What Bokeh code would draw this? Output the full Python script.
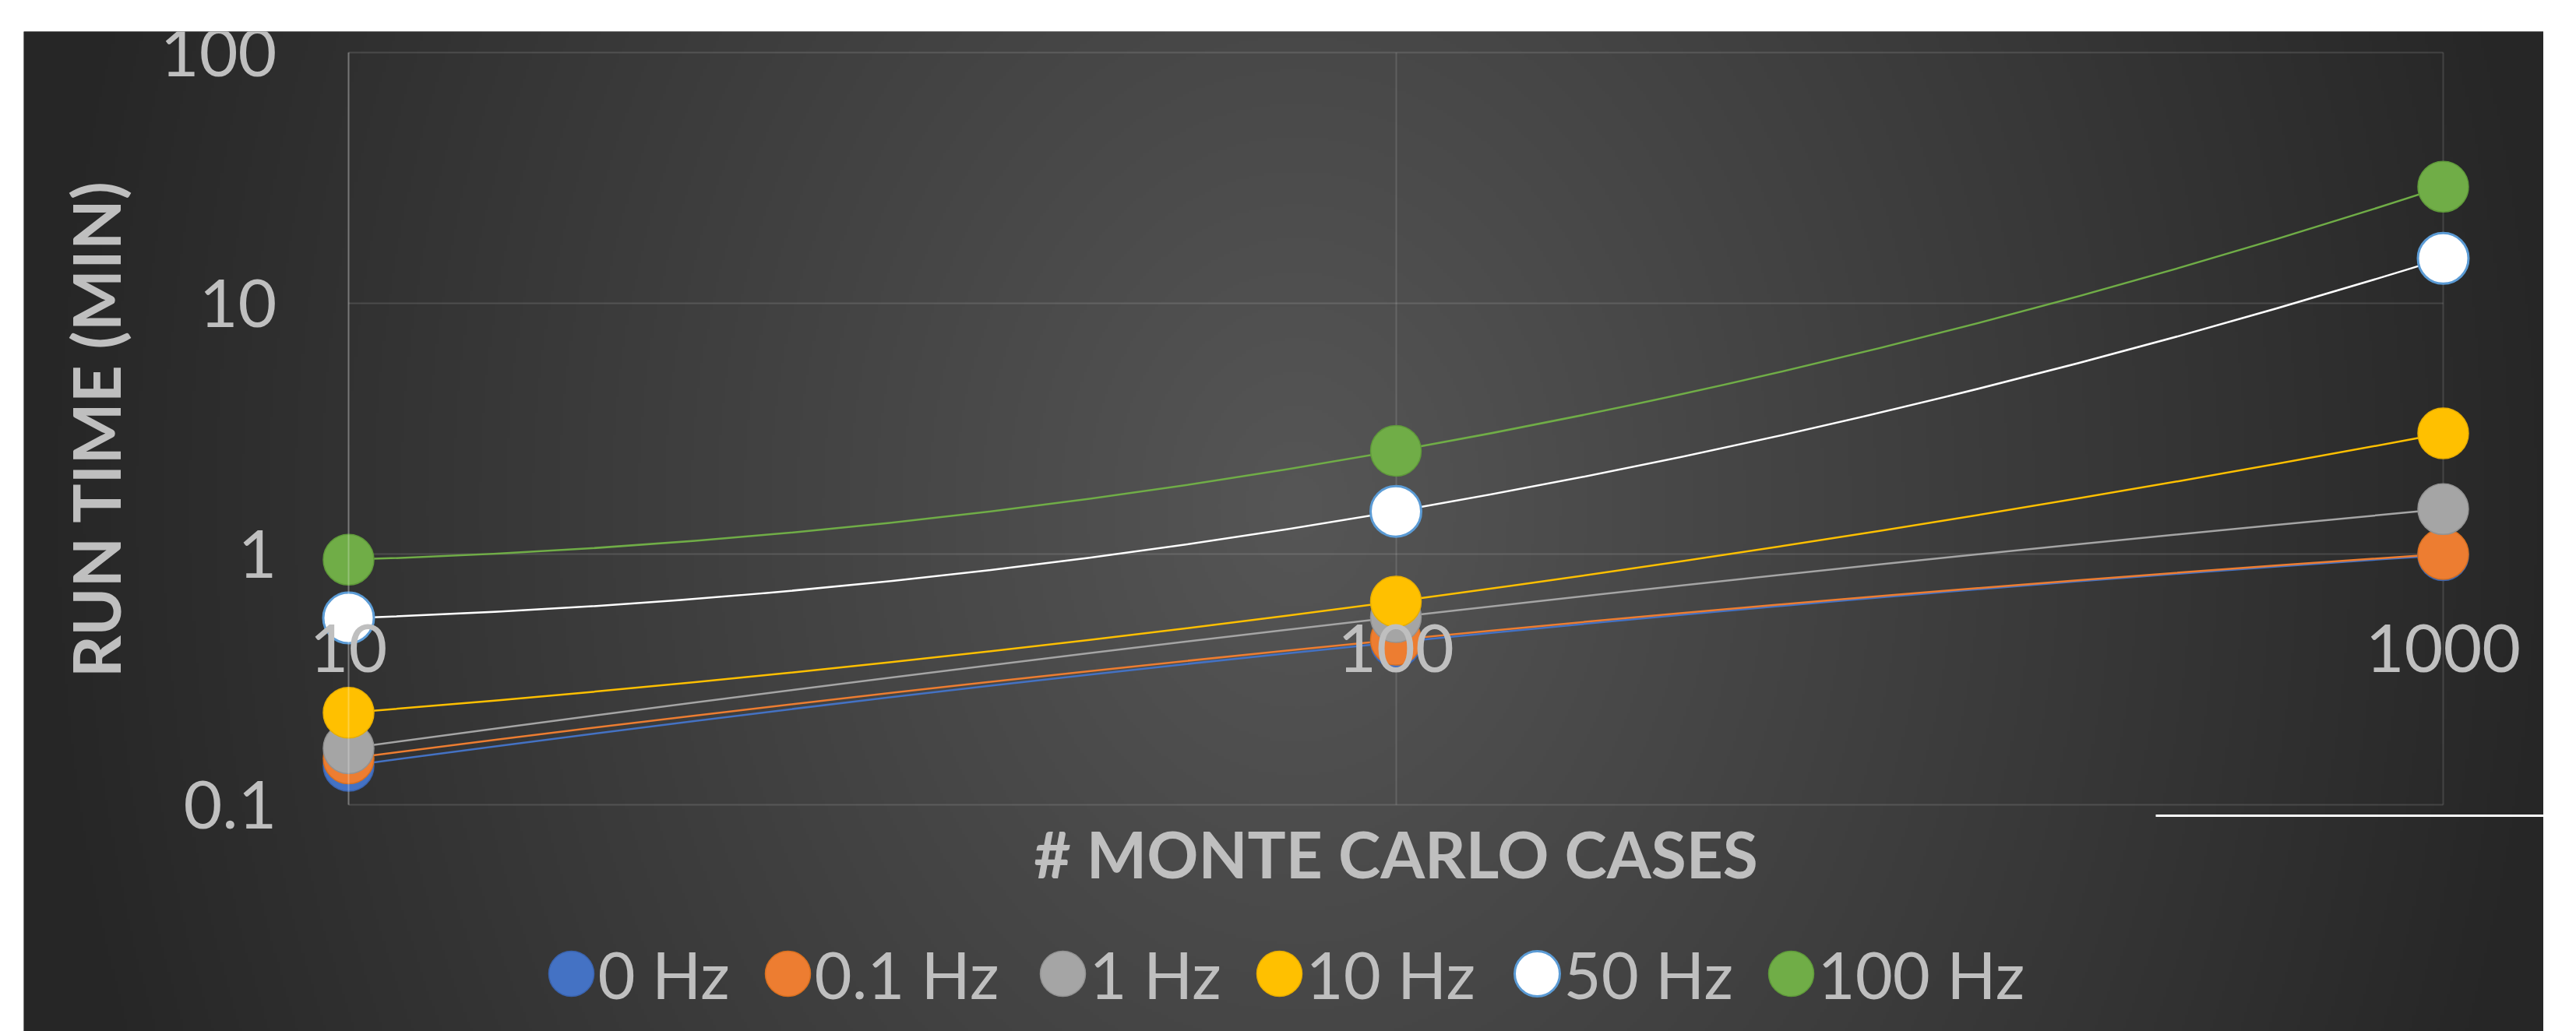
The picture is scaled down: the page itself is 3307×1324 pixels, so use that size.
import numpy as np
from bokeh.plotting import figure
from bokeh.models import Range1d, FixedTicker
from bokeh.core.properties import value
from bokeh.embed import file_html
from bokeh.resources import INLINE

# ---------------- data ----------------
CASES = [10, 100, 1000]
X_TICK_LABELS = ["10", "100", "1000"]
Y_TICKS = [0.1, 1, 10, 100]
Y_TICK_LABELS = ["0.1", "1", "10", "100"]

SERIES = ["0 Hz", "0.1 Hz", "1 Hz", "10 Hz", "50 Hz", "100 Hz"]
T_0HZ = [0.143, 0.445, 0.99]
T_01HZ = [0.153, 0.455, 1.0]
T_1HZ = [0.168, 0.56, 1.51]
T_10HZ = [0.233, 0.647, 3.03]
T_50HZ = [0.556, 1.48, 15.1]
T_100HZ = [0.95, 2.58, 29.2]
ALL_T = [T_0HZ, T_01HZ, T_1HZ, T_10HZ, T_50HZ, T_100HZ]

# ---------------- styles ----------------
FILL = ["#4472C4", "#ED7D31", "#A5A5A5", "#FFC000", "#FFFFFF", "#70AD47"]
LINE = ["#4472C4", "#ED7D31", "#A5A5A5", "#FFC000", "#FFFFFF", "#70AD47"]
OUTLINE = ["#3A63AE", "#D9701F", "#939393", "#E8AE00", "#5B9BD5", "#5F9A3A"]
OUTLINE_W = [1.5, 1.5, 1.5, 1.5, 3, 1.5]
TEXT_COLOR = "#BFBFBF"
FONT = "Lato"

# ---------------- layout (page pixels) ----------------
ORIGIN = 0                      # where the canvas starts on the page
W, H = 3265, 1324
FRAME_LEFT, FRAME_TOP = 30, 40
FRAME_RIGHT, FRAME_BOTTOM = ORIGIN + W, ORIGIN + H
PLOT_LEFT, PLOT_RIGHT = 447, 3136
PLOT_TOP, PLOT_BOTTOM = 67, 1033

lx0, lx1 = np.log10(CASES[0]), np.log10(CASES[-1])
ly0, ly1 = np.log10(Y_TICKS[0]), np.log10(Y_TICKS[-1])
dpp_x = (lx1 - lx0) / (PLOT_RIGHT - PLOT_LEFT)
dpp_y = (ly1 - ly0) / (PLOT_BOTTOM - PLOT_TOP)
xlo = lx0 - (PLOT_LEFT - FRAME_LEFT) * dpp_x
xhi = lx1 + (FRAME_RIGHT - PLOT_RIGHT) * dpp_x
yhi = ly1 + (PLOT_TOP - FRAME_TOP) * dpp_y
ylo = ly0 - (FRAME_BOTTOM - PLOT_BOTTOM) * dpp_y


def x_at(px):
    return 10 ** (xlo + (px - FRAME_LEFT) * dpp_x)


def y_at(py):
    return 10 ** (yhi - (py - FRAME_TOP) * dpp_y)


p = figure(width=W, height=H, x_axis_type="log", y_axis_type="log",
           x_range=Range1d(10 ** xlo, 10 ** xhi), y_range=Range1d(10 ** ylo, 10 ** yhi),
           output_backend="svg", toolbar_location=None, title=None,
           min_border_left=FRAME_LEFT - ORIGIN, min_border_top=FRAME_TOP - ORIGIN,
           min_border_right=0, min_border_bottom=0,
           border_fill_color="white", background_fill_color="#262626",
           outline_line_color=None)

# background radial gradient
nx, ny = 809, 320
fw, fh = FRAME_RIGHT - FRAME_LEFT, FRAME_BOTTOM - FRAME_TOP
gx = FRAME_LEFT + (np.arange(nx) + 0.5) * fw / nx
gy = FRAME_BOTTOM - (np.arange(ny) + 0.5) * fh / ny
GX, GY = np.meshgrid(gx, gy)
r = np.sqrt(((GX - 1665) / 1625) ** 2 + ((GY - 650) / 2070) ** 2)
g = np.clip(86 - 48 * np.minimum(r, 1.0), 0, 255).astype(np.uint32)
img = (np.uint32(255) << 24) | (g << 16) | (g << 8) | g
p.image_rgba(image=[img], x=10 ** xlo, y=10 ** ylo,
             dw=10 ** xhi - 10 ** xlo, dh=10 ** yhi - 10 ** ylo, level="image")

# axes
xa = p.xaxis[0]
xa.ticker = FixedTicker(ticks=CASES)
xa.major_label_overrides = {v: s for v, s in zip(CASES, X_TICK_LABELS)}
xa.fixed_location = y_at(770)
xa.bounds = (CASES[0], CASES[-1])
xa.axis_line_color = None
xa.major_tick_line_color = None
xa.minor_tick_line_color = None
xa.major_label_standoff = 25
xa.major_label_text_font = FONT
xa.major_label_text_font_size = "86px"
xa.major_label_text_color = TEXT_COLOR
xa.axis_label = "# MONTE CARLO CASES"
xa.axis_label_text_font = FONT
xa.axis_label_text_font_style = "bold"
xa.axis_label_text_font_size = "82px"
xa.axis_label_text_color = TEXT_COLOR
xa.axis_label_standoff = 181

ya = p.yaxis[0]
ya.ticker = FixedTicker(ticks=Y_TICKS)
ya.major_label_overrides = {v: s for v, s in zip(Y_TICKS, Y_TICK_LABELS)}
ya.fixed_location = CASES[0]
ya.bounds = (Y_TICKS[0], Y_TICKS[-1])
ya.axis_line_color = "white"
ya.axis_line_alpha = 0.25
ya.axis_line_width = 2
ya.major_tick_line_color = None
ya.minor_tick_line_color = None
ya.major_label_standoff = 86
ya.major_label_text_font = FONT
ya.major_label_text_font_size = "86px"
ya.major_label_text_color = TEXT_COLOR
ya.axis_label = "RUN TIME (MIN)"
ya.axis_label_text_font = FONT
ya.axis_label_text_font_style = "bold"
ya.axis_label_text_font_size = "84px"
ya.axis_label_text_color = TEXT_COLOR
ya.axis_label_standoff = 30

for grid, cb in ((p.xgrid, (Y_TICKS[0], Y_TICKS[-1])), (p.ygrid, (CASES[0], CASES[-1]))):
    grid.grid_line_color = "white"
    grid.grid_line_alpha = 0.13
    grid.grid_line_width = 2
    grid.cross_bounds = cb

# smoothed lines (parabolic in log-log space, drawn as Bezier segments)
lx = np.log10(CASES)
for vals, col in zip(ALL_T, LINE):
    ly = np.log10(vals)
    h = lx[1] - lx[0]
    m = [(-3 * ly[0] + 4 * ly[1] - ly[2]) / (2 * h),
         (ly[2] - ly[0]) / (2 * h),
         (ly[0] - 4 * ly[1] + 3 * ly[2]) / (2 * h)]
    x0s, y0s, x1s, y1s, cx0, cy0, cx1, cy1 = [], [], [], [], [], [], [], []
    for i in range(len(lx) - 1):
        hh = lx[i + 1] - lx[i]
        x0s.append(10 ** lx[i]); y0s.append(10 ** ly[i])
        x1s.append(10 ** lx[i + 1]); y1s.append(10 ** ly[i + 1])
        cx0.append(10 ** (lx[i] + hh / 3)); cy0.append(10 ** (ly[i] + m[i] * hh / 3))
        cx1.append(10 ** (lx[i + 1] - hh / 3)); cy1.append(10 ** (ly[i + 1] - m[i + 1] * hh / 3))
    p.bezier(x0=x0s, y0=y0s, x1=x1s, y1=y1s, cx0=cx0, cy0=cy0, cx1=cx1, cy1=cy1,
             line_color=col, line_width=2.5)

for vals, fc, oc, ow in zip(ALL_T, FILL, OUTLINE, OUTLINE_W):
    p.scatter(x=CASES, y=vals, size=65, marker="circle",
              fill_color=fc, line_color=oc, line_width=ow)

# legend (drawn manually below the plot area)
LEGEND_MARKER_PX = [733, 1011, 1364, 1642, 1973, 2299]
LEGEND_Y_PX = 1250
LEGEND_GAP = 34
lgx = [x_at(v) for v in LEGEND_MARKER_PX]
ltx = [x_at(v + LEGEND_GAP) for v in LEGEND_MARKER_PX]
lgy = [y_at(LEGEND_Y_PX)] * len(SERIES)
p.scatter(x=lgx, y=lgy, size=58, marker="circle", fill_color=FILL,
          line_color=OUTLINE, line_width=OUTLINE_W)
p.text(x=ltx, y=lgy, text=SERIES, text_font=value(FONT), text_font_size="83px",
       text_color=TEXT_COLOR, text_align="left", text_baseline="middle")

# thin white rule seen at the lower right of the source image
p.segment(x0=[x_at(2767)], y0=[y_at(1047)], x1=[x_at(FRAME_RIGHT)], y1=[y_at(1047)],
          line_color="white", line_width=3)

open("out.html", "w").write(file_html(p, INLINE))
